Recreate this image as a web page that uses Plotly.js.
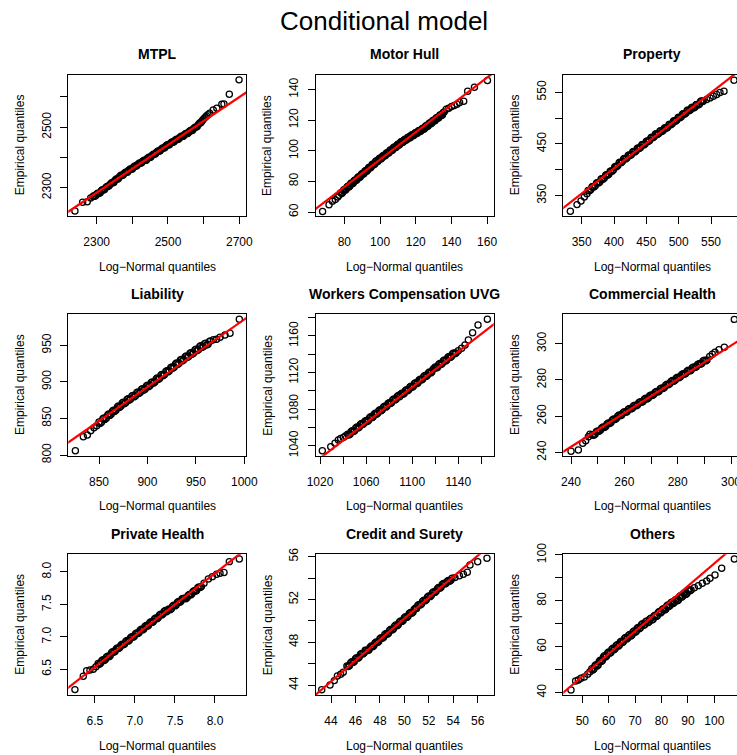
<!DOCTYPE html>
<html><head><meta charset="utf-8">
<script src="https://cdn.plot.ly/plotly-3.0.1.min.js"></script>
<style>html,body{margin:0;padding:0;overflow:hidden;background:#fff;width:737px;height:755px}#chart{width:743px;height:755px}</style>
</head><body><div id="chart"></div>
<script>
// ---------------- DATA ----------------
const mainTitle = 'Conditional model';
const panelTitles = ['MTPL','Motor Hull','Property','Liability','Workers Compensation UVG','Commercial Health','Private Health','Credit and Surety','Others'];
const xTitle = 'Log\u2212Normal quantiles';
const yTitle = 'Empirical quantiles';

// each panel: theoretical (Log-Normal) quantiles vs empirical quantiles
const mtplTheo = [2239.1,2260.7,2273.6,2283.2,2290,2292.4,2297,2303,2310,2316,2322,2329,2335,2342,2348,2355,2361,2368,2374,2381,2387,2394,2400,2407,2413,2420,2426,2433,2439,2446,2452,2459,2465,2472,2478,2485,2491,2498,2504,2511,2517,2524,2530,2537,2543,2550,2556,2563,2569,2576,2582,2589,2595,2602,2608,2617,2627,2637,2651,2657,2672,2699.3];
const mtplEmp  = [2222.8,2251.7,2253.6,2265.9,2271,2273.5,2273,2282,2283,2293,2294,2304,2306,2316,2317,2329,2330,2341,2342,2351,2352,2362,2362,2372,2373,2382,2382,2391,2391,2401,2401,2411,2412,2421,2422,2431,2432,2442,2442,2451,2452,2460,2461,2470,2470,2479,2480,2489,2490,2500,2502,2514,2520,2530,2537,2546,2557,2563,2576,2577,2609,2656.5];
const mtplTheoB = [2294,2300,2306,2313,2319,2326,2332,2338,2345,2351,2358,2364,2371,2377,2384,2390,2397,2403,2410,2416,2423,2429,2436,2442,2449,2455,2462,2468,2475,2481,2488,2494,2501,2507,2514,2520,2527,2533,2540,2546,2553,2559,2566,2572,2579,2585,2592,2598,2605,2612];
const mtplEmpB  = [2271.6,2278.3,2281.0,2289.6,2292.3,2300.8,2304.6,2311.8,2315.9,2323.6,2328.1,2335.9,2340.4,2347.1,2350.7,2357.4,2360.9,2367.7,2371.2,2377.9,2381.0,2387.2,2390.2,2396.5,2400.0,2406.8,2410.3,2417.0,2420.6,2427.3,2430.8,2437.6,2441.1,2447.3,2450.4,2456.6,2459.6,2465.9,2468.9,2475.1,2478.2,2484.9,2488.4,2495.7,2500.2,2508.5,2515.0,2524.7,2533.3,2540.8];

const hullTheo = [67.8,71.4,73.3,74.9,76.3,77,78,79,80,81,82,83,84,85,86,87,88,89,90,91,92,93,94,95,96,97,98,99,100,101,102,103,104,105,106,107,108,109,110,111,112,113,114,115,116,117,118,119,120,121,122,123,124,125,126,127,128,129,130,131,132,133,134,135,136,137.1,138.5,140.1,141.6,143.1,144.6,146.9,149.1,152.9,160.2];
const hullEmp  = [60.4,64.8,67.0,68.1,69.8,71.0,72.6,72.7,74.7,74.8,76.8,76.8,78.9,78.9,81.0,81.0,83.1,83.1,85.1,85.2,87.2,87.3,89.3,89.4,91.4,91.4,93.5,93.4,95.3,95.2,97.0,96.9,98.8,98.7,100.6,100.5,102.4,102.3,104.2,104.1,106.0,105.7,107.5,107.3,109.0,108.7,110.5,110.2,111.9,111.6,113.3,113.0,114.7,114.6,116.5,116.4,118.3,118.2,120.0,119.9,121.8,121.7,123.6,123.5,125.4,127.1,127.8,128.9,129.5,130.4,131.5,132.4,138.9,141.5,145.9];
const hullTheoB = [78.5,79.5,80.5,81.5,82.5,83.5,84.5,85.5,86.5,87.5,88.5,89.5,90.5,91.5,92.5,93.5,94.5,95.5,96.5,97.5,98.5,99.5,100.5,101.5,102.5,103.5,104.5,105.5,106.5,107.5,108.5,109.5,110.5,111.5,112.5,113.5,114.5,115.5,116.5,117.5,118.5,119.5,120.5,121.5,122.5,123.5,124.5,125.5,126.5,127.5,128.5,129.5,130.5,131.5,132.5,133.5,134.5,135.5];
const hullEmpB  = [72.1,74.2,74.2,76.3,76.3,78.4,78.4,80.4,80.5,82.5,82.6,84.6,84.7,86.7,86.7,88.8,88.8,90.9,90.9,93.0,92.9,94.8,94.7,96.6,96.5,98.4,98.3,100.2,100.1,102.0,101.9,103.7,103.6,105.5,105.4,107.1,106.9,108.7,108.4,110.1,109.8,111.5,111.2,112.9,112.6,114.3,114.1,116.0,115.9,117.8,117.7,119.6,119.5,121.4,121.3,123.2,123.1,125.0];

const propTheo = [332.5,342.8,349.0,354.1,358.2,360,364,367,371,374,378,381,385,388,392,395,399,402,406,409,413,416,420,423,427,430,434,437,441,444,448,451,455,458,462,465,469,472,476,479,483,486,490,493,497,500,504,507,511,514,518,521,525,528,532,535,538,543.3,548.5,553.6,558.8,563.9,570.1,585.6];
const propEmp  = [319.7,332.6,339.7,347.5,353.5,360.1,361.4,367.6,368.9,375.1,376.4,382.7,384.0,390.2,391.5,397.7,399.5,406.2,408.1,414.7,415.8,421.7,422.6,428.5,429.5,435.4,436.3,442.2,443.1,449.0,449.9,455.9,456.8,462.7,463.6,469.5,469.9,475.4,475.8,481.3,482.1,488.0,488.9,494.9,495.8,501.7,502.6,508.5,509.4,515.4,515.5,520.8,520.9,526.2,526.9,532.9,532.8,535.8,539.0,542.3,545.5,549.4,552.0,573.2];
const propTheoB = [362,366,369,373,376,380,383,387,390,394,397,401,404,408,411,415,418,422,425,429,432,436,439,443,446,450,453,457,460,464,467,471,474,478,481,485,488,492,495,499,502,506,509,513,516,520,523,527,530,534,537];
const propEmpB  = [359.2,366.5,366.7,374.1,374.3,381.6,381.8,389.1,389.3,396.6,397.2,405.1,405.8,413.7,413.8,420.7,420.7,427.6,427.5,434.4,434.3,441.2,441.2,448.1,448.0,454.9,454.8,461.7,461.7,468.6,468.2,474.6,474.1,480.5,480.2,487.1,487.0,493.9,493.8,500.7,500.7,507.6,507.5,514.4,513.9,520.1,519.5,525.6,525.0,531.9,531.8];

const liabTheo = [825.6,833.8,838.0,841.4,844.8,847.6,850,852.5,855,857.5,860,862.5,865,867.5,870,872.5,875,877.5,880,882.5,885,887.5,890,892.5,895,897.5,900,902.5,905,907.5,910,912.5,915,917.5,920,922.5,925,927.5,930,932.5,935,937.5,940,942.5,945,947.5,950,952.5,955,957.5,960,962.5,965,968.0,971.4,974.9,980.0,985.2,994.8];
const liabEmp  = [805.9,825.1,827.4,833.3,837.4,840.1,845.2,844.9,850.6,850.3,856.0,855.7,861.4,861.1,866.9,866.6,872.3,871.6,876.9,876.2,881.5,880.8,886.2,885.5,890.8,890.1,895.4,894.7,900.0,899.6,905.2,904.7,910.3,909.8,915.4,915.0,920.5,920.1,925.7,925.2,930.8,930.1,935.4,934.7,940.0,939.3,944.7,944.0,949.3,948.0,952.7,951.3,956.0,957.5,958.2,960.9,964.1,966.4,985.6];
const liabTheoB = [851,854,856,859,861,864,866,869,871,874,876,879,881,884,886,889,891,894,896,899,901,904,906,909,911,914,916,919,921,924,926,929,931,934,936,939,941,944,946,949,951,954,956,959,961,964];
const liabEmpB  = [843.2,849.5,848.7,854.9,854.1,860.3,859.5,865.8,864.9,871.2,870.2,876.0,874.8,880.6,879.5,885.2,884.1,889.9,888.7,894.5,893.3,899.1,898.1,904.1,903.2,909.3,908.3,914.4,913.4,919.5,918.6,924.6,923.7,929.8,928.7,934.5,933.3,939.1,937.9,943.7,942.6,948.4,947.0,952.0,950.3,955.4];

const wcTheo = [1022.0,1029.3,1033.0,1035.9,1037.9,1040.2,1042.0,1044,1046,1048,1050,1052,1054,1056,1058,1060,1062,1064,1066,1068,1070,1072,1074,1076,1078,1080,1082,1084,1086,1088,1090,1092,1094,1096,1098,1100,1102,1104,1106,1108,1110,1112,1114,1116,1118,1120,1122,1124,1126,1128,1130,1132,1134,1136,1138,1140.0,1142.9,1145.8,1148.7,1152.4,1157.1,1165.2];
const wcEmp  = [1034.5,1038.9,1042.6,1046.2,1048.0,1049.1,1050.6,1052.6,1052.6,1056.5,1056.5,1060.4,1060.3,1064.3,1064.2,1067.7,1067.6,1071.6,1071.5,1075.4,1075.4,1079.3,1079.3,1083.2,1083.2,1087.1,1087.0,1091.0,1090.9,1094.9,1096.3,1096.3,1100.2,1100.1,1104.1,1104.0,1108.0,1107.9,1111.9,1111.8,1115.8,1115.7,1119.6,1119.6,1123.5,1126.0,1125.9,1129.9,1129.8,1133.8,1133.7,1137.6,1137.6,1141.5,1141.5,1143.9,1146.5,1150.1,1155.6,1163.6,1172.0,1178.2];
const wcTheoB = [1045,1047,1049,1051,1053,1055,1057,1059,1061,1063,1065,1067,1069,1071,1073,1075,1077,1079,1081,1083,1085,1087,1089,1091,1093,1095,1097,1099,1101,1103,1105,1107,1109,1111,1113,1115,1117,1119,1121,1123,1125,1127,1129,1131,1133,1135,1137];
const wcEmpB  = [1051.6,1055.5,1055.5,1059.4,1059.4,1063.3,1063.2,1066.9,1066.6,1070.6,1070.5,1074.5,1074.4,1078.4,1078.3,1082.2,1082.2,1086.1,1086.1,1090.0,1090.0,1093.9,1093.6,1097.3,1097.2,1101.2,1101.1,1105.1,1105.0,1109.0,1108.9,1112.8,1112.8,1116.7,1116.7,1120.6,1120.6,1124.8,1125.0,1128.9,1128.8,1132.8,1132.7,1136.7,1136.6,1140.6,1140.5];

const commTheo = [240.0,242.75,244.4,245.5,246.5,247.1,248,249,250,251,252,253,254,255,256,257,258,259,260,261,262,263,264,265,266,267,268,269,270,271,272,273,274,275,276,277,278,279,280,281,282,283,284,285,286,287,288,289,290,291,292.0,293.0,294.0,295.5,297.5,301.25];
const commEmp  = [240.7,241.3,245.0,246.4,248.7,250.1,249.75,250.0,251.9,252.2,254.1,254.35,256.2,256.5,258.4,258.7,260.6,260.7,262.4,262.5,264.3,264.4,266.1,266.3,268.0,268.1,269.9,270.0,271.7,271.9,273.6,273.8,275.6,275.8,277.65,277.9,279.7,279.8,281.5,281.7,283.4,283.5,285.3,285.4,287.1,287.3,289.0,289.1,290.85,291.0,293.0,294.2,295.3,296.7,298.0,313.4];
const commTheoB = [248.5,249.5,250.5,251.5,252.5,253.5,254.5,255.5,256.5,257.5,258.5,259.5,260.5,261.5,262.5,263.5,264.5,265.5,266.5,267.5,268.5,269.5,270.5,271.5,272.5,273.5,274.5,275.5,276.5,277.5,278.5,279.5,280.5,281.5,282.5,283.5,284.5,285.5,286.5,287.5,288.5,289.5,290.5];
const commEmpB  = [249.5,251.4,251.65,253.5,253.8,255.7,256.0,257.9,258.1,260.0,260.2,261.95,262.1,263.8,263.95,265.7,265.8,267.5,267.7,269.4,269.5,271.3,271.4,273.1,273.3,275.1,275.3,277.1,277.35,279.2,279.3,281.1,281.2,282.9,283.1,284.8,284.9,286.7,286.8,288.5,288.65,290.4,290.5];

const privTheo = [6.25,6.354,6.396,6.4375,6.479,6.5125,6.54,6.57,6.60,6.63,6.66,6.69,6.72,6.75,6.78,6.81,6.84,6.87,6.90,6.93,6.96,6.99,7.02,7.05,7.08,7.11,7.14,7.17,7.20,7.23,7.26,7.29,7.32,7.35,7.38,7.41,7.44,7.47,7.50,7.53,7.56,7.59,7.62,7.65,7.68,7.71,7.74,7.77,7.80,7.83,7.8625,7.917,7.967,8.021,8.0625,8.1125,8.179,8.304];
const privEmp  = [6.187,6.392,6.479,6.49,6.5,6.541,6.588,6.593,6.646,6.651,6.703,6.708,6.771,6.776,6.829,6.834,6.886,6.891,6.944,6.949,7.002,7.007,7.059,7.064,7.117,7.122,7.175,7.180,7.232,7.237,7.290,7.295,7.348,7.353,7.405,7.414,7.419,7.472,7.477,7.530,7.534,7.587,7.596,7.601,7.654,7.659,7.711,7.716,7.769,7.774,7.825,7.892,7.928,7.964,7.979,7.990,8.159,8.200];
const privTheoB = [6.555,6.585,6.615,6.645,6.675,6.705,6.735,6.765,6.795,6.825,6.855,6.885,6.915,6.945,6.975,7.005,7.035,7.065,7.095,7.125,7.155,7.185,7.215,7.245,7.275,7.305,7.335,7.365,7.395,7.425,7.455,7.485,7.515,7.545,7.575,7.605,7.635,7.665,7.695,7.725,7.755,7.785,7.815];
const privEmpB  = [6.578,6.631,6.636,6.689,6.694,6.751,6.761,6.814,6.819,6.872,6.877,6.929,6.934,6.987,6.992,7.045,7.050,7.102,7.107,7.160,7.165,7.218,7.223,7.275,7.280,7.333,7.338,7.391,7.386,7.428,7.433,7.486,7.491,7.544,7.549,7.592,7.586,7.639,7.644,7.697,7.702,7.755,7.759];

const credTheo = [43.24,43.92,44.27,44.52,44.79,45.0,45.3,45.5,45.7,45.9,46.1,46.3,46.5,46.7,46.9,47.1,47.3,47.5,47.7,47.9,48.1,48.3,48.5,48.7,48.9,49.1,49.3,49.5,49.7,49.9,50.1,50.3,50.5,50.7,50.9,51.1,51.3,51.5,51.7,51.9,52.1,52.3,52.5,52.7,52.9,53.1,53.3,53.5,53.7,53.9,54.14,54.50,54.83,55.15,55.37,56.0,56.76];
const credEmp  = [43.56,44.0,44.41,44.84,45.0,45.2,45.78,45.81,46.17,46.20,46.56,46.60,46.95,46.99,47.25,47.28,47.64,47.67,48.03,48.07,48.42,48.46,48.81,48.85,49.21,49.24,49.60,49.63,49.99,50.03,50.38,50.42,50.77,50.81,51.17,51.44,51.48,51.83,51.87,52.23,52.26,52.62,52.66,53.01,53.05,53.40,53.44,53.67,53.70,53.99,54.04,54.22,54.35,54.54,55.22,55.53,55.85];
const credTheoB = [45.4,45.6,45.8,46.0,46.2,46.4,46.6,46.8,47.0,47.2,47.4,47.6,47.8,48.0,48.2,48.4,48.6,48.8,49.0,49.2,49.4,49.6,49.8,50.0,50.2,50.4,50.6,50.8,51.0,51.2,51.4,51.6,51.8,52.0,52.2,52.4,52.6,52.8,53.0,53.2,53.4,53.6,53.8];
const credEmpB  = [45.72,46.07,46.11,46.46,46.50,46.86,46.89,47.25,47.23,47.54,47.58,47.93,47.97,48.32,48.36,48.72,48.75,49.11,49.14,49.50,49.54,49.89,49.93,50.29,50.32,50.68,50.71,51.07,51.15,51.54,51.58,51.93,51.97,52.33,52.36,52.72,52.76,53.11,53.15,53.50,53.48,53.77,53.80];

const othTheo = [45.71,47.47,48.48,49.49,50.76,52.02,52.9,53.6,54.4,55.2,56.0,56.8,57.6,58.4,59.2,60.0,60.8,61.6,62.4,63.2,64.0,64.8,65.6,66.4,67.2,68.0,68.8,69.6,70.4,71.2,72.0,72.8,73.6,74.4,75.2,76.0,76.8,77.6,78.4,79.2,80.0,80.8,81.6,82.4,83.2,84.0,84.8,85.6,86.4,87.2,88.0,88.8,89.6,90.4,91.2,92.42,93.94,95.45,97.1,98.36,100.25,102.78,107.58];
const othEmp  = [41.16,45.08,45.52,46.25,46.83,47.99,49.15,50.44,50.32,52.21,52.10,54.09,54.07,56.06,55.95,57.74,57.52,59.31,59.10,60.89,60.67,62.46,62.25,64.04,63.82,65.31,65.10,66.89,66.67,68.46,68.25,70.04,69.63,71.21,70.80,72.39,71.98,73.76,73.55,75.34,75.13,76.61,76.40,78.19,77.98,79.47,79.25,80.64,80.43,82.22,82.00,83.39,83.18,84.97,84.75,85.76,86.64,87.65,88.67,89.83,91.29,94.19,98.26];
const othTheoB = [54.0,54.8,55.6,56.4,57.2,58.0,58.8,59.6,60.4,61.2,62.0,62.8,63.6,64.4,65.2,66.0,66.8,67.6,68.4,69.2,70.0,70.8,71.6,72.4,73.2,74.0,74.8,75.6,76.4,77.2,78.0,78.8,79.6,80.4,81.2,82.0,82.8,83.6,84.4,85.2,86.0,86.8,87.6,88.4,89.2,90.0,90.8];
const othEmpB  = [49.88,51.77,51.65,53.59,53.58,55.57,55.50,57.34,57.13,58.92,58.71,60.49,60.28,62.07,61.86,63.64,63.43,65.07,64.71,66.49,66.28,68.07,67.86,69.64,69.33,70.92,70.51,72.09,71.68,73.37,73.16,74.94,74.73,76.37,76.01,77.79,77.58,79.22,78.86,80.44,80.03,81.82,81.61,83.19,82.78,84.57,84.36];

// reference (fitted) line per panel: y = intercept + slope * x
const fitIntercept = [466.3, 5.0, 12.2, 60.4, 34.84, 19.66, 0.289, 1.18, -2.14];
const fitSlope     = [0.79, 0.8926, 0.976, 0.925, 0.972, 0.931, 0.9613, 0.9805, 0.9846];

// tick values and labels
const xTickVals = [[2300,2400,2500,2600,2700],[80,100,120,140,160],[350,400,450,500,550],[850,900,950,1000],[1020,1040,1060,1080,1100,1120,1140,1160],[240,250,260,270,280,290,300],[6.5,7.0,7.5,8.0],[44,46,48,50,52,54,56],[50,60,70,80,90,100]];
const xTickText = [['2300','','2500','','2700'],['80','100','120','140','160'],['350','400','450','500','550'],['850','900','950','1000'],['1020','','1060','','1100','','1140',''],['240','','260','','280','','300'],['6.5','7.0','7.5','8.0'],['44','46','48','50','52','54','56'],['50','60','70','80','90','100']];
const yTickVals = [[2300,2400,2500,2600],[60,80,100,120,140],[350,400,450,500,550],[800,850,900,950],[1040,1060,1080,1100,1120,1140,1160,1180],[240,260,280,300],[6.5,7.0,7.5,8.0],[44,46,48,50,52,54,56],[40,50,60,70,80,90,100]];
const yTickText = [['2300','','2500',''],['60','80','100','120','140'],['350','','450','','550'],['800','850','900','950'],['1040','','1080','','1120','','1160',''],['240','260','280','300'],['6.5','7.0','7.5','8.0'],['44','','48','','52','','56'],['40','','60','','80','','100']];

// axis ranges (R style 4% padding)
const xRanges = [[2220.5,2718.8],[64.1,163.7],[321.6,596.4],[818.3,1001.7],[1016.5,1170.7],[237.1,303.75],[6.167,8.3875],[42.77,57.31],[42.8,110.1]];
const yRanges = [[2206.3,2674.2],[57.4,149.8],[310.6,584.2],[799.1,992.4],[1029.1,1183.7],[238.2,316.2],[6.104,8.272],[43.065,56.22],[38.98,100.3]];

// ---------------- BUILD ----------------
const theo = [mtplTheo.concat(mtplTheoB), hullTheo.concat(hullTheoB), propTheo.concat(propTheoB), liabTheo.concat(liabTheoB), wcTheo.concat(wcTheoB), commTheo.concat(commTheoB), privTheo.concat(privTheoB), credTheo.concat(credTheoB), othTheo.concat(othTheoB)];
const emp  = [mtplEmp.concat(mtplEmpB), hullEmp.concat(hullEmpB), propEmp.concat(propEmpB), liabEmp.concat(liabEmpB), wcEmp.concat(wcEmpB), commEmp.concat(commEmpB), privEmp.concat(privEmpB), credEmp.concat(credEmpB), othEmp.concat(othEmpB)];

const W = 743, H = 755;
const colPx = [[68.3,246],[316,493.7],[563.3,741]];
const rowPx = [[74.5,216],[314.3,455.7],[554.3,695]];
const FONT = 'Liberation Sans, Arial, Helvetica, sans-serif';

const traces = [];
const layout = {
  width: W, height: H, margin:{l:0,r:0,t:0,b:0},
  paper_bgcolor:'#fff', plot_bgcolor:'#fff', showlegend:false,
  font:{family:FONT, color:'#000', size:12},
  annotations:[]
};

for (let i=0;i<9;i++){
  const s = i===0 ? '' : String(i+1);
  const r = Math.floor(i/3), c = i%3;
  traces.push({type:'scatter', mode:'markers', x:theo[i], y:emp[i], xaxis:'x'+s, yaxis:'y'+s,
    marker:{symbol:'circle-open', size:6.2, color:'#000', line:{width:1.25,color:'#000'}}, hoverinfo:'skip'});
  const xr = xRanges[i], span = xr[1]-xr[0];
  const lx = [xr[0]-span, xr[1]+span];
  traces.push({type:'scatter', mode:'lines', x:lx, y:lx.map(v=>fitIntercept[i]+fitSlope[i]*v), xaxis:'x'+s, yaxis:'y'+s,
    line:{color:'#ff0000', width:2.2}, hoverinfo:'skip'});
  const common = {showgrid:false, zeroline:false, showline:true, mirror:true, linecolor:'#000', linewidth:1,
    ticks:'outside', ticklen:7, tickwidth:1, tickcolor:'#000', tickfont:{size:12, family:FONT, color:'#000'}, tickmode:'array', fixedrange:true};
  layout['xaxis'+s] = Object.assign({}, common, {domain:[colPx[c][0]/W, colPx[c][1]/W], range:xRanges[i], anchor:'y'+s,
    tickvals:xTickVals[i], ticktext:xTickText[i], tickangle:0, ticklabelstandoff:8});
  layout['yaxis'+s] = Object.assign({}, common, {domain:[(H-rowPx[r][1])/H, (H-rowPx[r][0])/H], range:yRanges[i], anchor:'x'+s,
    tickvals:yTickVals[i], ticktext:yTickText[i], tickangle:-90, ticklabelstandoff:5});
  layout.annotations.push({text:'<b>'+panelTitles[i]+'</b>', xref:'x'+s+' domain', yref:'y'+s+' domain', x:0.5, y:1, yshift:20.5,
    xanchor:'center', yanchor:'middle', showarrow:false, font:{size:14, family:FONT, color:'#000'}});
  layout.annotations.push({text:xTitle, xref:'x'+s+' domain', yref:'y'+s+' domain', x:0.5, y:0, yshift:-50.7,
    xanchor:'center', yanchor:'middle', showarrow:false, font:{size:12, family:FONT, color:'#000'}});
  layout.annotations.push({text:yTitle, xref:'x'+s+' domain', yref:'y'+s+' domain', x:0, y:0.5, xshift:-48.3, textangle:-90,
    xanchor:'center', yanchor:'middle', showarrow:false, font:{size:12, family:FONT, color:'#000'}});
}
layout.annotations.push({text:mainTitle, xref:'paper', yref:'paper', x:383.5/W, y:1-20.5/H, xanchor:'center', yanchor:'middle',
  showarrow:false, font:{size:26, family:FONT, color:'#000'}});

Plotly.newPlot('chart', traces, layout, {staticPlot:true, displayModeBar:false});
</script></body></html>
